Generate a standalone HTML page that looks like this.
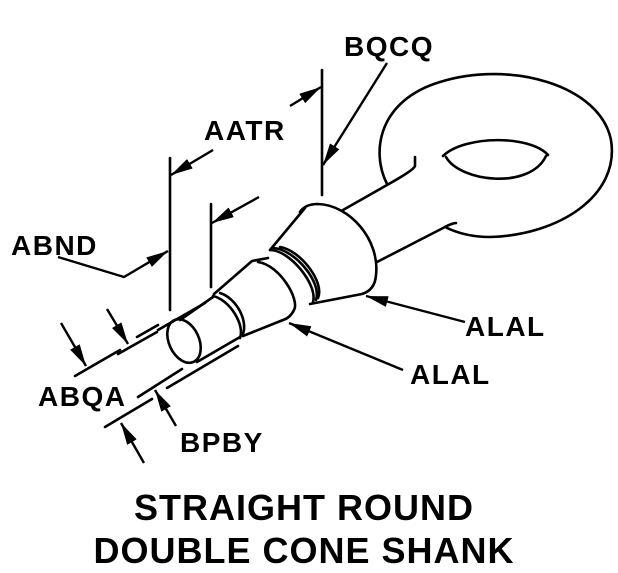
<!DOCTYPE html>
<html><head><style>
html,body{margin:0;padding:0;background:#fff;}
svg{display:block;}
text{font-family:"Liberation Sans",Arial,sans-serif;fill:#000;font-weight:bold;}
</style></head><body>
<svg width="618" height="573" viewBox="0 0 618 573" xmlns="http://www.w3.org/2000/svg">
<defs>
<marker id="b" viewBox="0 0 20 10" refX="20" refY="5" markerWidth="22" markerHeight="11" markerUnits="userSpaceOnUse" orient="auto">
<path d="M0,0 L20,5 L0,10 z" fill="#000"/>
</marker>
</defs>
<g fill="none" stroke="#000" stroke-width="2.6" stroke-linecap="round" stroke-linejoin="round">
<path d="M387,184 C370,150 380,100 440,82 C510,60 600,85 611,140 C620,195 560,235 490,237 C470,237 455,232 445,227"/>
<path d="M445,227 C450,224 455,223 456,223"/>
<path d="M443,156 C465,135 530,135 548,155"/>
<path d="M446,157 C460,182 530,190 546,156"/>
<path d="M415,157 L415,166 Q414,170 387,185 L343,210"/>
<path d="M445,227 L377,262"/>
<path d="M300,212 Q305,204 318,204 C350,205 380,240 376,275 Q375,290 362,294 L310,304"/>
<path d="M305,208 L270,250"/>
<path d="M270,250 C290,250 318,285 313,302"/>
<path d="M274,248 C295,250 322,282 316,300"/>
<path d="M280,247 C300,250 325,282 318,298"/>
<path d="M268,258 L252,261 L214,294"/>
<path d="M258,262 C280,265 300,300 294,310 Q290,318 283,320 L243,336"/>
<path d="M213,296 C230,300 245,325 240,338"/>
<path d="M220,293 C236,298 248,320 243,334"/>
<ellipse cx="184" cy="341" rx="15" ry="23" transform="rotate(-25 184 341)"/>
<path d="M180,320 L213,297"/>
<path d="M197,362 L240,337"/>
<path d="M170,158 L170,310"/>
<path d="M211,204 L211,287"/>
<path d="M322,70 L322,195"/>
<path d="M137,337 L158,325"/>
<path d="M158,330 L205,303" />
<path d="M118,354 L157,332"/>
<path d="M75,376 L120,350"/>
<path d="M138,397 L182,369"/>
<path d="M167,388 L238,346"/>
<path d="M105,427 L152,399"/>
</g>
<g fill="none" stroke="#000" stroke-width="2.4">
<path d="M61,323 L86,366" marker-end="url(#b)"/>
<path d="M107,309 L128,344" marker-end="url(#b)"/>
<path d="M176,426 L155,390" marker-end="url(#b)"/>
<path d="M144,463 L121,423" marker-end="url(#b)"/>
<path d="M58,257 L124,277 L168,251" marker-end="url(#b)"/>
<path d="M259,197 L212,223" marker-end="url(#b)"/>
<path d="M213,150 L171,175" marker-end="url(#b)"/>
<path d="M290,106 L321,87" marker-end="url(#b)"/>
<path d="M387,63 L323,165" marker-end="url(#b)"/>
<path d="M465,322 L366,296" marker-end="url(#b)"/>
<path d="M403,370 L289,323" marker-end="url(#b)"/>
</g>
<g font-size="28" letter-spacing="1.5">
<text x="344" y="56">BQCQ</text>
<text x="204" y="140">AATR</text>
<text x="11" y="255">ABND</text>
<text x="465" y="336">ALAL</text>
<text x="410" y="384">ALAL</text>
<text x="38" y="406">ABQA</text>
<text x="180" y="452">BPBY</text>
</g>
<g font-size="36" text-anchor="middle" letter-spacing="1">
<text x="304" y="520">STRAIGHT ROUND</text>
<text x="304" y="563">DOUBLE CONE SHANK</text>
</g>
</svg>
</body></html>
